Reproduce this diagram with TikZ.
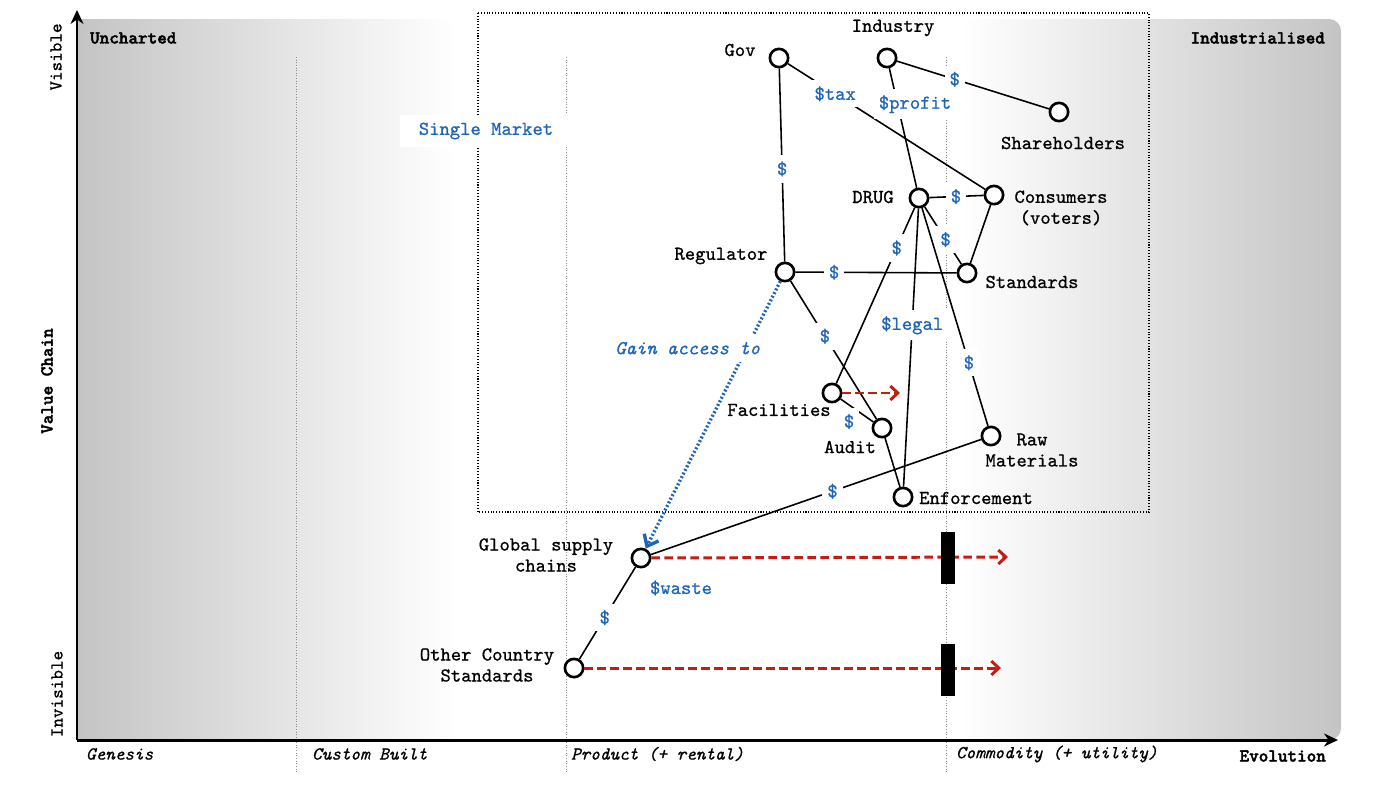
\documentclass[tikz,border=0pt]{standalone}
\usepackage{fontspec}
\setmainfont{lmmono10-regular.otf}[FakeBold=0.8, ItalicFont=lmmono10-italic.otf, BoldFont=lmmonolt10-bold.otf, BoldFeatures={FakeBold=2}]
\usetikzlibrary{arrows.meta, positioning}

\definecolor{mapgrey}{RGB}{196,196,196}
\definecolor{flowblue}{RGB}{30,100,185}
\definecolor{evored}{RGB}{195,30,20}

\begin{document}
\begin{tikzpicture}[x=0.02cm, y=-0.02cm,
	comp/.style={circle, draw=black, fill=white, line width=1.5pt, inner sep=0pt, minimum size=0.366cm},
	txt/.style={font=\fontsize{11.2}{11.95}\selectfont, align=center, inner sep=1pt},
	flow/.style={font=\fontsize{11.2}{11.95}\selectfont, text=flowblue, fill=white, inner xsep=0.1cm, inner ysep=0.12cm},
	flowline/.style={draw=black, line width=0.9pt},
	evo/.style={draw=evored, line width=1.7pt, dash pattern=on 0.17cm off 0.09cm, -{Straight Barb[length=0.15cm, width=0.28cm]}},
	access/.style={draw=flowblue, line width=1.9pt, dash pattern=on 1.1pt off 1.2pt, -{Straight Barb[length=0.2cm, width=0.32cm]}},
	inertia/.style={fill=black, inner sep=0pt, minimum width=0.28cm, minimum height=1.04cm},
	mapaxis/.style={line width=1.7pt, -{Stealth[length=0.28cm, width=0.26cm]}},
	axistxt/.style={font=\fontsize{10.4}{11}\selectfont, inner sep=1pt},
	axisbold/.style={font=\fontsize{10.4}{11}\selectfont\bfseries, inner sep=1pt},
	stage/.style={font=\fontsize{10.4}{11}\selectfont\itshape, anchor=west, inner sep=1pt},
	stageline/.style={draw=black!45, line width=0.5pt, densely dotted}
]
	\fill[white] (0,0) rectangle (1400,788);
	\useasboundingbox (0,0) rectangle (1400,788);

	% background
	\begin{scope}
		\clip[rounded corners=0.24cm] (60,19) rectangle (1341,740);
		\shade[left color=mapgrey, right color=white] (78,19) rectangle (457,740);
		\shade[left color=white, right color=mapgrey] (961,19) rectangle (1341,740);
	\end{scope}

	\foreach \sx in {296,566,946}
		\draw[stageline] (\sx,57) -- (\sx,772);

	\draw[densely dotted, line width=0.6pt] (478,13) rectangle (1149,512);
	\node[flow, inner xsep=0.38cm, minimum height=0.64cm] (singlemarket) at (486,131) {Single Market};

	% axes
	\coordinate (origin) at (77,740);
	\coordinate (valuetop) at (77,10);
	\coordinate (evoend) at (1338,740);
	\draw[mapaxis] (origin) -- (valuetop);
	\draw[mapaxis] (origin) -- (evoend);

	\node[axistxt, rotate=90] (visible) at (56,57) {Visible};
	\node[axisbold, rotate=90] (valuechain) at (47,381) {Value Chain};
	\node[axistxt, rotate=90] (invisible) at (57,694) {Invisible};
	\node[axisbold, anchor=west] (uncharted) at (88,38) {Uncharted};
	\node[axisbold, anchor=east] (industrialised) at (1327,38) {Industrialised};
	\node[axisbold, anchor=east] (evolution) at (1328,756) {Evolution};

	\node[stage] (genesis) at (84,754) {Genesis};
	\node[stage] (custom) at (310,754) {Custom Built};
	\node[stage] (product) at (569,754) {Product (+ rental)};
	\node[stage] (commodity) at (954,754) {Commodity (+ utility)};

	% components
	\node[comp] (gov) at (779,58) {};
	\node[comp] (industry) at (887,58) {};
	\node[comp] (shareholders) at (1059,112) {};
	\node[comp] (drug) at (919,198) {};
	\node[comp] (consumers) at (994,195) {};
	\node[comp] (regulator) at (785,272) {};
	\node[comp] (standards) at (967,273) {};
	\node[comp] (facilities) at (832,393) {};
	\node[comp] (audit) at (882,428) {};
	\node[comp] (rawmat) at (991,436) {};
	\node[comp] (enforcement) at (903,497) {};
	\node[comp] (global) at (641,558) {};
	\node[comp] (othercs) at (574,668) {};

	\node[txt] (govlbl) at (740,50) {Gov};
	\node[txt] (industrylbl) at (893,28) {Industry};
	\node[txt] (shareholderslbl) at (1063,143) {Shareholders};
	\node[txt] (druglbl) at (873,197) {DRUG};
	\node[txt] (consumerslbl) at (1061,208) {Consumers\\(voters)};
	\node[txt] (regulatorlbl) at (721,256) {Regulator};
	\node[txt] (standardslbl) at (1032,282) {Standards};
	\node[txt] (facilitieslbl) at (779,410) {Facilities};
	\node[txt] (auditlbl) at (850,447) {Audit};
	\node[txt] (rawmatlbl) at (1032,450) {Raw\\Materials};
	\node[txt] (enforcementlbl) at (976,498) {Enforcement};
	\node[txt] (globallbl) at (546,555) {Global supply\\chains};
	\node[txt] (othercslbl) at (487,665) {Other Country\\Standards};

	\draw[flowline]
		(gov) edge node[flow, pos=0.24] {\$tax} (consumers)
		(gov) edge node[flow, pos=0.52] {\$} (regulator)
		(industry) edge node[flow, pos=0.38] {\$} (shareholders)
		(industry) edge node[flow, pos=0.30, xshift=0.35cm] {\$profit} (drug)
		(drug) edge node[flow, pos=0.49] {\$} (consumers)
		(consumers) edge (standards)
		(drug) edge node[flow, pos=0.57] {\$} (standards)
		(drug) edge node[flow, pos=0.23] {\$} (facilities)
		(drug) edge node[flow, pos=0.42] {\$legal} (enforcement)
		(drug) edge node[flow, pos=0.71] {\$} (rawmat)
		(regulator) edge node[flow, pos=0.24] {\$} (standards)
		(regulator) edge node[flow, pos=0.40] {\$} (audit)
		(facilities) edge node[flow, pos=0.5, xshift=-0.16cm, yshift=-0.22cm] {\$} (audit)
		(audit) edge (enforcement)
		(rawmat) edge node[flow, pos=0.45] {\$} (global)
		(global) edge node[flow, pos=0.55] {\$} (othercs)
		;

	\node[flow] (wastelbl) at (681,588) {\$waste};

	\draw[access] (regulator) -- node[flow, pos=0.25, xshift=-1.18cm, inner xsep=0.08cm, inner ysep=0.15cm, font=\fontsize{11.2}{11.95}\selectfont\itshape] {Gain access to} (global);

	% evolution
	\coordinate (facilitiesevo) at (900,393);
	\coordinate (globalevo) at (1008,557);
	\coordinate (otherevo) at (1001,668);
	\draw[evo] (facilities) -- (facilitiesevo);
	\draw[evo] (global) -- (globalevo);
	\draw[evo] (othercs) -- (otherevo);
	\node[inertia] (globalinertia) at (948,558) {};
	\node[inertia] (otherinertia) at (948,670) {};
\end{tikzpicture}
\end{document}
